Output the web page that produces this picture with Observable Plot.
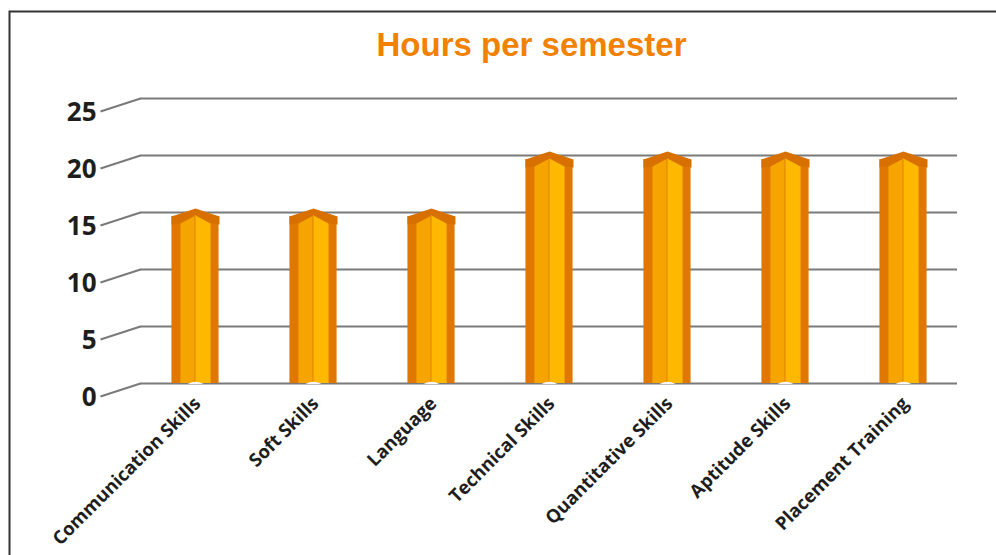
<!DOCTYPE html>
<html>
<head>
<meta charset="utf-8">
<script src="https://cdn.jsdelivr.net/npm/d3@7"></script>
<script src="https://cdn.jsdelivr.net/npm/@observablehq/plot@0.6"></script>
<style>
  html, body { margin: 0; padding: 0; background: #fff; }
  #chart svg { display: block; }
</style>
</head>
<body>
<div id="chart"></div>
<script>
const categories = ["Communication Skills", "Soft Skills", "Language", "Technical Skills", "Quantitative Skills", "Aptitude Skills", "Placement Training"];
const hours = [15, 15, 15, 20, 20, 20, 20];
const yTicks = [0, 5, 10, 15, 20, 25];
const title = "Hours per semester";

const data = categories.map((c, i) => ({skill: c, hours: hours[i]}));

const W = 996, H = 555;
const xRange = [133, 965];
const bw = (xRange[1] - xRange[0]) / categories.length;
const barW = 48, side = 9;
const outer = (bw - barW) / 2;

const DARK = "#DF7700", LEFT = "#F6A400", RIGHT = "#FFB800", CAP = "#D87000";

const capSymbol = {
  draw(ctx) {
    ctx.moveTo(-24, 4); ctx.lineTo(0, -4); ctx.lineTo(24, 4);
    ctx.lineTo(24, 12); ctx.lineTo(15, 11); ctx.lineTo(0, 3); ctx.lineTo(-15, 11);
    ctx.lineTo(-24, 12); ctx.closePath();
  }
};
const notchSymbol = {
  draw(ctx) {
    ctx.moveTo(-8, 0.5); ctx.quadraticCurveTo(0, -4, 8, 0.5); ctx.closePath();
  }
};
const connector = {
  draw(ctx) { ctx.moveTo(100, 13); ctx.lineTo(140, 0); }
};

const chart = Plot.plot({
  width: W, height: H,
  marginTop: 0, marginRight: 0, marginBottom: 0, marginLeft: 0,
  style: {fontFamily: "'Open Sans', sans-serif", background: "#fff", overflow: "hidden"},
  x: {type: "band", domain: categories, range: xRange, padding: 0, axis: null},
  y: {domain: [0, 25], range: [383, 98], axis: null},
  marks: [
    Plot.frame({stroke: "#333", strokeWidth: 2, insetLeft: 9, insetTop: 11, insetRight: -20, insetBottom: -20}),
    Plot.ruleY(yTicks, {y: d => d, stroke: "#7a7a7a", strokeWidth: 2, insetLeft: 140, insetRight: W - 957}),
    Plot.dot(yTicks, {y: d => d, frameAnchor: "left", symbol: connector, r: 1, stroke: "#7a7a7a", strokeWidth: 2, fill: "none"}),
    Plot.text(yTicks, {y: d => d, text: d => String(d), frameAnchor: "left", textAnchor: "end", dx: 96, dy: 14, fontSize: 26, fontWeight: "bold", fill: "#1e1e1e"}),
    Plot.barY(data, {x: "skill", y: "hours", fill: DARK, insetLeft: outer, insetRight: outer, insetTop: 4}),
    Plot.barY(data, {x: "skill", y: "hours", fill: LEFT, insetLeft: outer + side, insetRight: bw / 2, insetTop: 3}),
    Plot.barY(data, {x: "skill", y: "hours", fill: RIGHT, insetLeft: bw / 2, insetRight: outer + side - 1, insetTop: 3}),
    Plot.dot(data, {x: "skill", y: "hours", symbol: capSymbol, r: 1, fill: CAP, stroke: "none"}),
    Plot.dot(data, {x: "skill", y: 0, symbol: notchSymbol, r: 1, fill: "#f8f5fb", stroke: "none"}),
    Plot.text(data, {x: "skill", y: 0, text: "skill", rotate: -45, textAnchor: "end", lineAnchor: "middle", dx: 2, dy: 17, fontSize: 18.5, fontWeight: "bold", fill: "#1e1e1e"}),
    Plot.text([title], {text: d => d, frameAnchor: "top", lineAnchor: "middle", dx: 33, dy: 45, fontSize: 33, fontWeight: "bold", fill: "#F28100", fontFamily: "'Liberation Sans', Arial, sans-serif"})
  ]
});
document.getElementById("chart").appendChild(chart);
</script>
</body>
</html>
